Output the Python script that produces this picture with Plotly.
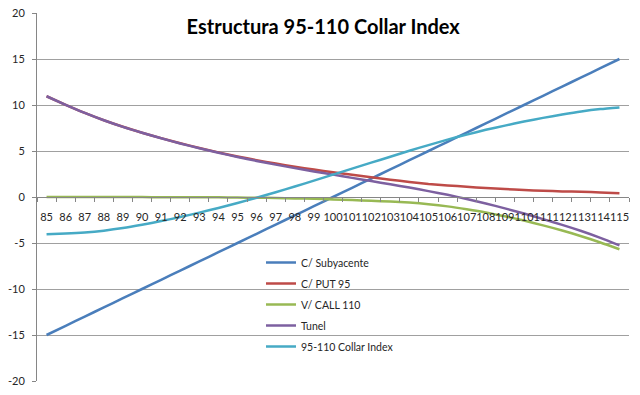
import plotly.graph_objects as go

strikes = ["85", "86", "87", "88", "89", "90", "91", "92", "93", "94", "95", "96", "97", "98", "99", "100",
           "101", "102", "103", "104", "105", "106", "107", "108", "109", "110", "111", "112", "113", "114", "115"]

subyacente = [-15, -14, -13, -12, -11, -10, -9, -8, -7, -6, -5, -4, -3, -2, -1, 0,
              1, 2, 3, 4, 5, 6, 7, 8, 9, 10, 11, 12, 13, 14, 15]

put_95 = [10.95, 10.02, 9.14, 8.34, 7.63, 6.99, 6.40, 5.84, 5.33, 4.85, 4.41, 4.00, 3.63, 3.29, 2.98, 2.69,
          2.41, 2.14, 1.88, 1.64, 1.42, 1.26, 1.11, 0.98, 0.86, 0.76, 0.68, 0.61, 0.56, 0.50, 0.42]

call_110 = [0.00, 0.00, 0.00, 0.00, -0.01, -0.01, -0.02, -0.02, -0.03, -0.04, -0.06, -0.08, -0.11, -0.15, -0.20, -0.26,
            -0.33, -0.41, -0.50, -0.61, -0.78, -1.02, -1.33, -1.68, -2.10, -2.56, -3.08, -3.64, -4.26, -4.94, -5.68]

tunel = [10.95, 10.02, 9.14, 8.34, 7.62, 6.98, 6.38, 5.82, 5.30, 4.81, 4.35, 3.92, 3.52, 3.14, 2.78, 2.43,
         2.08, 1.73, 1.38, 1.03, 0.64, 0.24, -0.22, -0.70, -1.24, -1.80, -2.40, -3.03, -3.70, -4.44, -5.26]

collar = [-4.05, -3.98, -3.86, -3.66, -3.38, -3.02, -2.62, -2.18, -1.70, -1.19, -0.65, -0.08, 0.52, 1.14, 1.78, 2.43,
          3.08, 3.73, 4.38, 5.03, 5.64, 6.24, 6.78, 7.30, 7.76, 8.20, 8.60, 8.97, 9.30, 9.56, 9.74]

y_ticks = [-20, -15, -10, -5, 0, 5, 10, 15, 20]
y_tick_labels = ["-20", "-15", "-10", "-5", "0", "5", "10", "15", "20"]

series = [
    ("C/ Subyacente", subyacente, "#4A7EBB"),
    ("C/ PUT 95", put_95, "#BE4B48"),
    ("V/ CALL 110", call_110, "#98B954"),
    ("Tunel", tunel, "#7D60A0"),
    ("95-110 Collar Index", collar, "#46AAC5"),
]

FONT = "Lato"

fig = go.Figure()
for i, (name, vals, col) in enumerate(series):
    fig.add_trace(go.Scatter(
        x=strikes, y=vals, name=name, mode="lines",
        line=dict(color=col, width=2.5, shape="spline", smoothing=0.6),
        legendgroup=f"g{i}",
    ))

fig.update_layout(
    width=640, height=395,
    margin=dict(l=37, r=11, t=13, b=14, autoexpand=False),
    paper_bgcolor="white", plot_bgcolor="white",
    font=dict(family=FONT, size=11, color="#262626"),
    title=dict(text="<b>Estructura 95-110 Collar Index</b>", x=0.505, xanchor="center",
               y=1 - 27 / 395, yanchor="middle", font=dict(family=FONT, size=20, color="#000000")),
    showlegend=True,
    legend=dict(x=(261 - 37) / 592, y=1 - (248 - 13) / 368, xanchor="left", yanchor="top",
                bgcolor="rgba(0,0,0,0)", font=dict(family=FONT, size=10.5, color="#262626"),
                tracegroupgap=2, itemwidth=30),
    xaxis=dict(type="category", range=[-0.5, 30.5], anchor="free", position=0.5, automargin=False,
               showline=True, linecolor="#868686", linewidth=1,
               ticks="outside", tickson="boundaries", ticklen=4, tickcolor="#868686",
               tickangle=0, showgrid=False, zeroline=False,
               tickfont=dict(family=FONT, size=11, color="#262626"), ticklabelstandoff=10),
    yaxis=dict(range=[-20, 20], tickmode="array", tickvals=y_ticks, ticktext=y_tick_labels, automargin=False,
               showline=True, linecolor="#868686", linewidth=1,
               ticks="outside", ticklen=4, tickcolor="#868686", ticklabelstandoff=5,
               showgrid=True, gridcolor="#a0a0a0", gridwidth=1, zeroline=False,
               tickfont=dict(family=FONT, size=11, color="#262626")),
)

fig.write_html("out.html", config={"displayModeBar": False},
               post_script="document.body.style.margin='0';")
